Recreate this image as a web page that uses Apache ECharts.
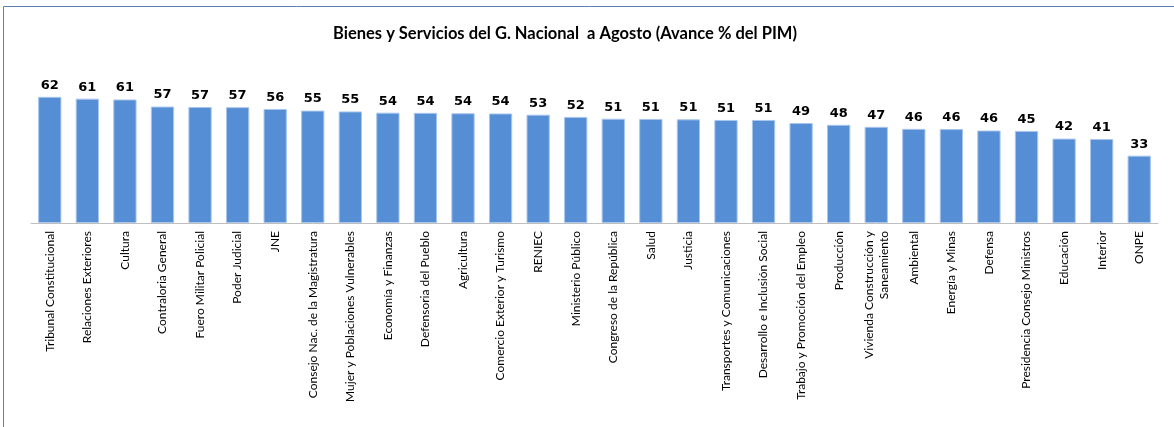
<!DOCTYPE html>
<html>
<head>
<meta charset="utf-8">
<script src="https://cdn.jsdelivr.net/npm/echarts@6/dist/echarts.min.js"></script>
<style>
  html, body { margin: 0; padding: 0; background: #fff; }
  #chart { width: 1174px; height: 427px; }
</style>
</head>
<body>
<div id="chart"></div>
<script>
// categorias (pliegos) y avance % del PIM
const categories = [
  'Tribunal Constitucional', 'Relaciones Exteriores', 'Cultura', 'Contraloria General',
  'Fuero Militar Policial', 'Poder Judicial', 'JNE', 'Consejo Nac. de la Magistratura',
  'Mujer y Poblaciones Vulnerables', 'Economía y Finanzas', 'Defensoria del Pueblo',
  'Agricultura', 'Comercio Exterior y Turismo', 'RENIEC', 'Ministerio Público',
  'Congreso de la República', 'Salud', 'Justicia', 'Transportes y Comunicaciones',
  'Desarrollo e Inclusión Social', 'Trabajo y Promoción del Empleo', 'Producción',
  'Vivienda Construcción y\nSaneamiento', 'Ambiental', 'Energía y Minas', 'Defensa',
  'Presidencia Consejo Ministros', 'Educación', 'Interior', 'ONPE'
]
const avance = [
  62.2, 61.3, 60.9, 57.4, 57.2, 57.1, 56.2, 55.4, 55.0, 54.4,
  54.3, 54.1, 54.0, 53.4, 52.3, 51.4, 51.3, 51.1, 50.8, 50.8,
  49.3, 48.4, 47.4, 46.4, 46.3, 45.6, 45.4, 41.6, 41.4, 33.2
]

const myChart = echarts.init(document.getElementById('chart'))
const option = {
  animation: false,
  title: {
    text: 'Bienes y Servicios del G. Nacional  a Agosto (Avance % del PIM)',
    left: 560,
    top: 20,
    textAlign: 'center',
    textStyle: {
      fontFamily: 'Lato',
      fontWeight: 'bold',
      fontSize: 16.5,
      color: '#000'
    }
  },
  graphic: [
    {
      type: 'rect',
      shape: { x: 3.5, y: 6.5, width: 1180, height: 440 },
      style: { fill: 'none', stroke: '#5b7fb5', lineWidth: 1 },
      silent: true
    }
  ],
  grid: {
    left: 31,
    right: 16,
    top: 81,
    bottom: 204
  },
  xAxis: {
    type: 'category',
    data: categories,
    axisLine: { lineStyle: { color: '#bfbfbf', width: 1 } },
    axisTick: { length: 4, lineStyle: { color: '#bfbfbf' } },
    axisLabel: {
      rotate: 90,
      interval: 0,
      margin: 8,
      fontFamily: 'Lato',
      fontSize: 12,
      lineHeight: 15,
      color: '#000'
    }
  },
  yAxis: {
    type: 'value',
    min: 0,
    max: 70,
    show: false
  },
  series: [
    {
      type: 'bar',
      data: avance,
      barCategoryGap: '38%',
      itemStyle: {
        color: '#558ed5',
        borderColor: '#a9c6ec',
        borderWidth: 1
      },
      label: {
        show: true,
        position: 'top',
        distance: 5,
        fontFamily: 'DejaVu Sans',
        fontWeight: 'bold',
        fontSize: 13,
        color: '#000',
        formatter: p => Math.round(p.value)
      }
    }
  ]
}
myChart.setOption(option)
</script>
</body>
</html>
